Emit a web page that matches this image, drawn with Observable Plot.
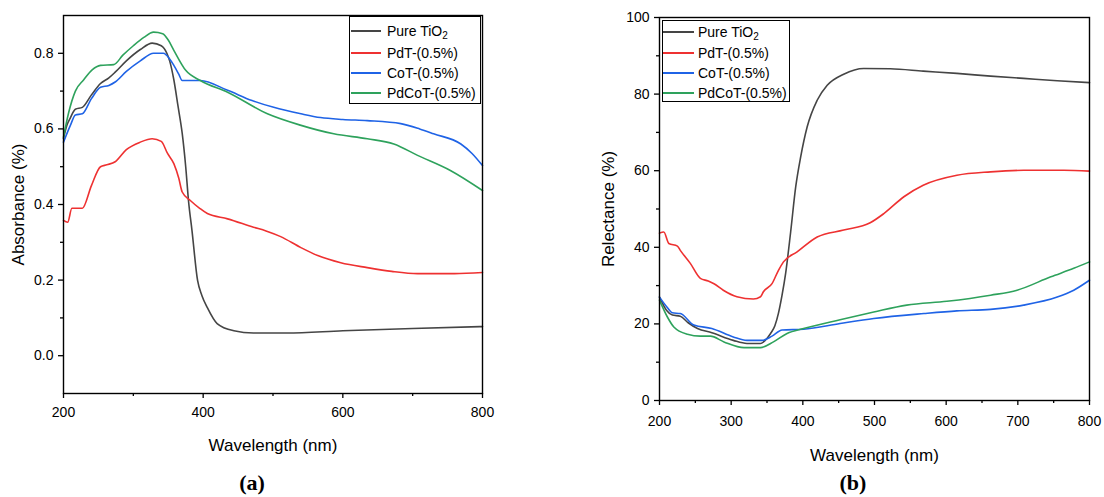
<!DOCTYPE html>
<html>
<head>
<meta charset="utf-8">
<script src="https://cdn.jsdelivr.net/npm/d3@7"></script>
<script src="https://cdn.jsdelivr.net/npm/@observablehq/plot@0.6"></script>
<style>
  body { margin: 0; background: #fff; }
  #wrap { position: relative; width: 1104px; height: 497px; overflow: hidden; font-family: "Liberation Sans", Arial, sans-serif; color: #000; }
  .panel { position: absolute; top: 0; }
  .legend { position: absolute; border: 1px solid #000; background: #fff; font-size: 14px; box-sizing: border-box; }
  .legend .row { display: flex; align-items: center; white-space: nowrap; }
  .legend .sw { display: inline-block; height: 0; border-top: 2px solid #000; }
  .legend sub { font-size: 10px; vertical-align: -3px; line-height: 0; }
  .cap { position: absolute; font-family: "Liberation Serif", "Times New Roman", serif; font-weight: bold; font-size: 22px; line-height: 22px; width: 80px; text-align: center; }
</style>
</head>
<body>
<div id="wrap"></div>
<script>
// ---------- series names and colours ----------
const seriesNames = ["Pure TiO2", "PdT-(0.5%)", "CoT-(0.5%)", "PdCoT-(0.5%)"];
const seriesColors = ["#454545", "#ee3131", "#1f63e6", "#2ea25c"];

// ---------- panel (a): absorbance ----------
const aPureWl = [200, 205, 210, 217, 227, 240, 253, 265, 274, 290, 310, 327, 340, 348, 352, 358, 364, 370, 375, 379, 384, 392, 398, 406, 420, 444, 472, 520, 600, 700, 800];
const aPureV  = [0.575, 0.61, 0.63, 0.652, 0.657, 0.69, 0.72, 0.735, 0.75, 0.78, 0.81, 0.827, 0.82, 0.80, 0.78, 0.73, 0.66, 0.588, 0.50, 0.41, 0.331, 0.199, 0.16, 0.127, 0.085, 0.066, 0.06, 0.06, 0.066, 0.072, 0.077];

const aPdTWl = [200, 206, 212, 220, 227, 240, 253, 262, 274, 290, 310, 327, 340, 349, 358, 365, 370, 382, 395, 406, 435, 472, 490, 511, 540, 564, 597, 635, 670, 707, 760, 800];
const aPdTV  = [0.358, 0.353, 0.39, 0.39, 0.39, 0.45, 0.50, 0.505, 0.513, 0.545, 0.565, 0.574, 0.567, 0.535, 0.508, 0.47, 0.433, 0.41, 0.39, 0.376, 0.362, 0.34, 0.33, 0.315, 0.286, 0.265, 0.246, 0.233, 0.223, 0.217, 0.217, 0.22];

const aCoTWl = [200, 210, 217, 227, 240, 253, 265, 274, 290, 310, 329, 343, 352, 358, 365, 370, 396, 435, 470, 501, 540, 568, 600, 635, 683, 710, 730, 769, 785, 800];
const aCoTV  = [0.565, 0.61, 0.637, 0.64, 0.68, 0.71, 0.715, 0.724, 0.752, 0.78, 0.80, 0.80, 0.785, 0.768, 0.745, 0.728, 0.728, 0.702, 0.675, 0.657, 0.64, 0.63, 0.625, 0.622, 0.614, 0.60, 0.587, 0.56, 0.535, 0.503];

const aPdCoTWl = [200, 207, 217, 229, 241, 253, 272, 285, 300, 315, 329, 342, 350, 358, 375, 396, 435, 492, 539, 587, 635, 673, 707, 754, 800];
const aPdCoTV  = [0.578, 0.64, 0.70, 0.73, 0.756, 0.768, 0.77, 0.795, 0.82, 0.842, 0.856, 0.852, 0.835, 0.808, 0.755, 0.728, 0.697, 0.64, 0.61, 0.587, 0.574, 0.56, 0.53, 0.49, 0.437];

// ---------- panel (b): reflectance ----------
const bPureWl = [200, 210, 218, 229, 240, 253, 273, 303, 322, 341, 348, 355, 361, 366, 371, 376, 383, 390, 397, 406, 420, 434, 457, 485, 522, 568, 615, 662, 708, 755, 800];
const bPureV  = [27.0, 23.5, 22.3, 22.0, 20.3, 18.8, 17.7, 15.7, 14.9, 14.9, 15.8, 17.5, 19.5, 22.8, 27.5, 33.2, 44.0, 55.7, 63.6, 71.4, 78.4, 82.3, 85.2, 86.7, 86.6, 86.0, 85.4, 84.7, 84.1, 83.5, 83.0];

const bPdTWl = [200, 206, 213, 225, 229, 243, 257, 268, 276, 289, 308, 331, 341, 345, 357, 366, 373, 392, 420, 457, 494, 513, 541, 568, 615, 662, 708, 764, 800];
const bPdTV  = [43.7, 44.0, 41.0, 40.3, 39.2, 35.8, 31.9, 31.2, 30.5, 28.8, 27.1, 26.5, 27.1, 28.4, 30.5, 34.0, 36.2, 38.8, 42.7, 44.5, 46.4, 48.8, 53.2, 56.2, 58.8, 59.7, 60.1, 60.1, 59.9];

const bCoTWl = [200, 210, 218, 229, 248, 273, 303, 322, 343, 357, 371, 401, 452, 499, 569, 615, 662, 708, 755, 778, 800];
const bCoTV  = [27.0, 24.5, 22.9, 22.7, 19.7, 18.8, 16.6, 15.7, 15.7, 16.8, 18.4, 18.6, 20.1, 21.4, 22.7, 23.4, 23.8, 24.9, 27.0, 28.8, 31.4];

const bPdCoTWl = [200, 211, 220, 239, 257, 271, 290, 318, 341, 359, 378, 401, 452, 499, 545, 601, 662, 699, 746, 778, 800];
const bPdCoTV  = [26.2, 21.8, 19.2, 17.3, 16.8, 16.8, 15.3, 13.8, 13.8, 15.3, 17.5, 18.8, 21.1, 23.1, 24.9, 25.9, 27.5, 28.8, 32.3, 34.5, 36.2];

// ---------- ticks ----------
const aXTicks = [200, 400, 600, 800];
const aXMinor = [300, 500, 700];
const aYTicks = [0.0, 0.2, 0.4, 0.6, 0.8];
const aYMinor = [0.1, 0.3, 0.5, 0.7];
const bXTicks = [200, 300, 400, 500, 600, 700, 800];
const bXMinor = [250, 350, 450, 550, 650, 750];
const bYTicks = [0, 20, 40, 60, 80, 100];
const bYMinor = [10, 30, 50, 70, 90];

// ---------- build tables ----------
function table(pairs) {
  const rows = [];
  pairs.forEach(([wl, v], i) => wl.forEach((w, j) => rows.push({wl: w, v: v[j], s: seriesNames[i]})));
  return rows;
}
const dataA = table([[aPureWl, aPureV], [aPdTWl, aPdTV], [aCoTWl, aCoTV], [aPdCoTWl, aPdCoTV]]);
const dataB = table([[bPureWl, bPureV], [bPdTWl, bPdTV], [bCoTWl, bCoTV], [bPdCoTWl, bPdCoTV]]);

const font = "'Liberation Sans', Arial, sans-serif";

function panel(o) {
  const svg = Plot.plot({
    width: o.width, height: o.height,
    marginLeft: o.ml, marginRight: o.mr, marginTop: o.mt, marginBottom: o.mb,
    style: {fontFamily: font, fontSize: "14px", color: "#000", background: "transparent", overflow: "visible"},
    x: {domain: [200, 800]},
    y: {domain: o.yDomain},
    color: {domain: seriesNames, range: seriesColors},
    marks: [
      Plot.line(o.data, {x: "wl", y: "v", z: "s", stroke: "s", strokeWidth: 1.6, curve: "monotone-x"}),
      Plot.frame({stroke: "#000", strokeWidth: 1.4}),
      Plot.axisX({ticks: o.xTicks, tickSize: 5, tickPadding: o.xPad, tickFormat: d => String(d), stroke: "#000", strokeWidth: 1.3,
                  label: "Wavelength (nm)", labelAnchor: "center", labelArrow: "none", labelOffset: o.xLabOff}),
      Plot.axisX({ticks: o.xMinor, tickSize: 3, text: null, label: null, stroke: "#000", strokeWidth: 1.3}),
      Plot.axisY({ticks: o.yTicks, tickSize: 5, tickPadding: o.yPad, tickFormat: o.yFmt, stroke: "#000", strokeWidth: 1.3,
                  label: o.yLabel, labelAnchor: "center", labelArrow: "none", labelOffset: o.yLabOff}),
      Plot.axisY({ticks: o.yMinor, tickSize: 3, text: null, label: null, stroke: "#000", strokeWidth: 1.3})
    ]
  });
  d3.select(svg).selectAll('[aria-label="x-axis label"], [aria-label="y-axis label"]').attr("font-size", 17);
  svg.classList.add("panel");
  svg.style.left = o.left + "px";
  return svg;
}

const wrap = document.getElementById("wrap");
wrap.appendChild(panel({
  data: dataA, left: 0, width: 500, height: 452, ml: 63, mr: 18, mt: 15, mb: 59,
  yDomain: [-0.1, 0.9], xTicks: aXTicks, xMinor: aXMinor, yTicks: aYTicks, yMinor: aYMinor,
  yFmt: d3.format(".1f"), yLabel: "Absorbance (%)", xPad: 9, yPad: 5, xLabOff: 57, yLabOff: 52
}));
wrap.appendChild(panel({
  data: dataB, left: 590, width: 514, height: 462, ml: 69, mr: 15, mt: 17, mb: 62,
  yDomain: [0, 100], xTicks: bXTicks, xMinor: bXMinor, yTicks: bYTicks, yMinor: bYMinor,
  yFmt: d => String(d), yLabel: "Relectance (%)", xPad: 11, yPad: 5, xLabOff: 60, yLabOff: 58
}));

// ---------- legends (HTML overlays) ----------
function legend(o) {
  const box = document.createElement("div");
  box.className = "legend";
  Object.assign(box.style, {left: o.left + "px", top: o.top + "px", width: o.w + "px", height: o.h + "px", paddingTop: o.pt + "px"});
  seriesNames.forEach((name, i) => {
    const row = document.createElement("div");
    row.className = "row";
    row.style.height = (i === 0 ? o.rh0 : o.rh) + "px";
    const sw = document.createElement("span");
    sw.className = "sw";
    Object.assign(sw.style, {width: o.sw + "px", marginLeft: o.sl + "px", marginRight: o.sr + "px", borderTopColor: seriesColors[i]});
    const t = document.createElement("span");
    if (i === 0) t.innerHTML = "Pure TiO<sub>2</sub>"; else t.textContent = name;
    row.appendChild(sw); row.appendChild(t);
    box.appendChild(row);
  });
  wrap.appendChild(box);
}
legend({left: 349, top: 16, w: 132, h: 88, pt: 2, rh0: 24, rh: 20, sw: 30, sl: 1, sr: 6});
legend({left: 662, top: 20, w: 128, h: 82, pt: 0, rh0: 22, rh: 20, sw: 31, sl: 0, sr: 4});

// ---------- captions ----------
function caption(text, cx) {
  const d = document.createElement("div");
  d.className = "cap";
  d.textContent = text;
  d.style.left = (cx - 40) + "px";
  d.style.top = "472px";
  wrap.appendChild(d);
}
caption("(a)", 252);
caption("(b)", 853);
</script>
</body>
</html>
